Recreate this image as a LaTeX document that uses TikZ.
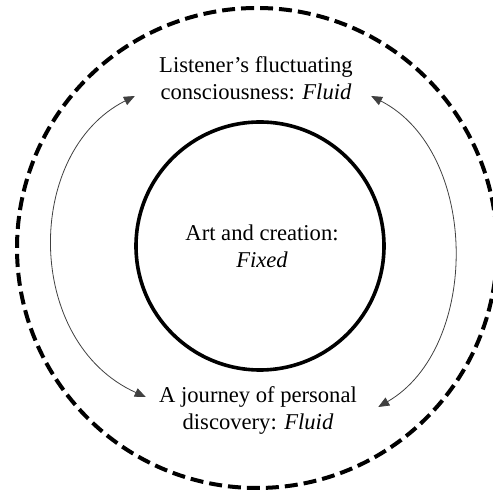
\documentclass[tikz,border=0pt]{standalone}
\usepackage{fontspec}
\setmainfont{Liberation Serif}
\usetikzlibrary{arrows.meta}

\begin{document}
\begin{tikzpicture}[x=1pt, y=1pt,
  txt/.style={align=center, inner sep=0pt, font=\fontsize{11.3}{13.5}\selectfont},
  flow/.style={draw=black!75, line width=0.4pt, {Triangle[length=5.5pt,width=4.5pt]}-{Triangle[length=5.5pt,width=4.5pt]}}]

  \useasboundingbox (0,0) rectangle (246.5,246);

  \draw[line width=2pt, dash pattern=on 6.5pt off 3pt] (128.5,122) circle (120);
  \draw[line width=1.8pt] (130,123) circle (62);

  \node[txt] (art) at (131,123) {Art and creation:\\ \textit{Fixed}};
  \node[txt] (listener) at (128,207) {Listener's fluctuating\\ consciousness: \textit{Fluid}};
  \node[txt] (journey) at (129,41) {A journey of personal\\ discovery: \textit{Fluid}};

  \draw[flow] ([shift={(-12pt,-9pt)}]listener.west) .. controls +(-55.5,-28) and +(-61,27.5) .. ([shift={(-6.5pt,6.5pt)}]journey.west);
  \draw[flow] ([shift={(9pt,-9pt)}]listener.east) .. controls +(54.5,-28) and +(51,29.5) .. ([shift={(10.5pt,1.5pt)}]journey.east);
\end{tikzpicture}
\end{document}
